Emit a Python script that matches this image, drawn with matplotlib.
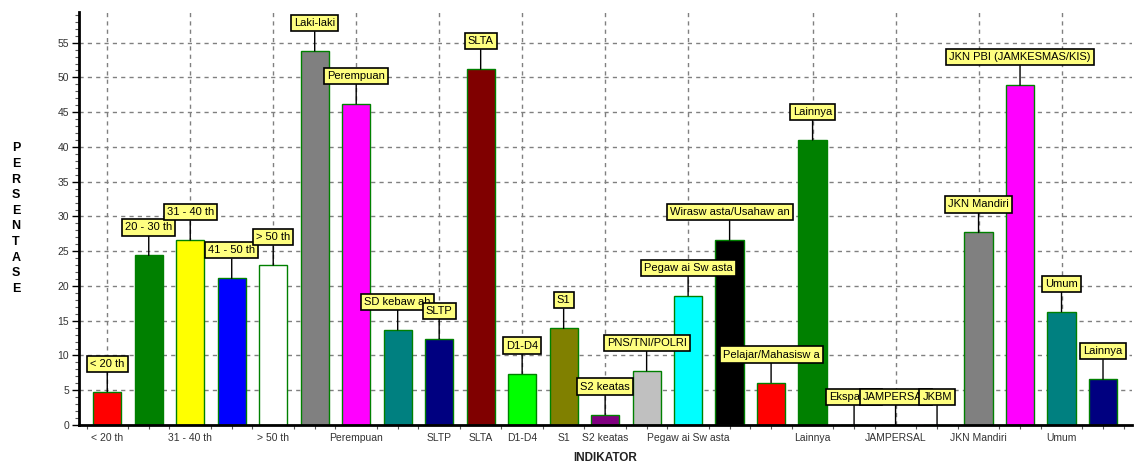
import matplotlib.pyplot as plt
from matplotlib.ticker import MultipleLocator, FixedLocator

plt.rcParams["font.family"] = ["Liberation Sans", "DejaVu Sans"]

# indikator (bar labels) and persentase per bar
indikator = [
    "< 20 th", "20 - 30 th", "31 - 40 th", "41 - 50 th", "> 50 th",
    "Laki-laki", "Perempuan",
    "SD kebaw ah", "SLTP", "SLTA", "D1-D4", "S1", "S2 keatas",
    "PNS/TNI/POLRI", "Pegaw ai Sw asta", "Wirasw asta/Usahaw an",
    "Pelajar/Mahasisw a", "Lainnya",
    "Ekspatriat", "JAMPERSAL", "JKBM", "JKN Mandiri",
    "JKN PBI (JAMKESMAS/KIS)", "Umum", "Lainnya",
]
persentase = [
    4.8, 24.4, 26.6, 21.1, 23.0,
    53.8, 46.2,
    13.7, 12.4, 51.2, 7.4, 13.9, 1.5,
    7.8, 18.6, 26.6, 6.1, 41.0,
    0.0, 0.0, 0.0, 27.7, 48.9, 16.3, 6.6,
]
palette = [
    "#ff0000", "#008000", "#ffff00", "#0000ff", "#ffffff", "#808080",
    "#ff00ff", "#008080", "#000080", "#800000", "#00ff00", "#808000",
    "#800080", "#c0c0c0", "#00ffff", "#000000",
]
# categories that get a tick label / vertical grid line
label_idx = [0, 2, 4, 6, 8, 9, 10, 11, 12, 14, 17, 19, 21, 23]
grid_idx = [0, 2, 4, 6, 8, 10, 12, 14, 17, 19, 21, 23]

x = list(range(len(indikator)))
colors = [palette[i % len(palette)] for i in x]

fig = plt.figure(figsize=(11.39, 4.65), dpi=100)
ax = fig.add_axes([0.0694, 0.086, 0.9245, 0.888])

ax.bar(x, persentase, width=0.68, color=colors, edgecolor="#008000",
       linewidth=1, zorder=2)

ax.set_xlim(-0.68, 24.7)
ax.set_ylim(0, 59.4)

# grid
ax.yaxis.set_major_locator(MultipleLocator(5))
ax.yaxis.set_minor_locator(MultipleLocator(1))
for y in range(5, 60, 5):
    ax.axhline(y, color="#808080", lw=1, ls=(0, (3, 3)), zorder=1)
for i in grid_idx:
    ax.axvline(i, color="#808080", lw=1, ls=(0, (3, 3)), zorder=1)

ax.xaxis.set_major_locator(FixedLocator(label_idx))
ax.set_xticklabels([indikator[i] for i in label_idx])
ax.xaxis.set_minor_locator(MultipleLocator(0.5))
ax.tick_params(axis="x", which="major", length=0, pad=6, labelsize=7.5,
               labelcolor="#333333")
ax.tick_params(axis="x", which="minor", length=3, width=0.8, color="#555555")
ax.tick_params(axis="y", which="major", length=5, width=1, labelsize=7.5,
               labelcolor="#333333", pad=2)
ax.tick_params(axis="y", which="minor", length=3, width=0.8, color="#555555")

for side in ("top", "right"):
    ax.spines[side].set_visible(False)
ax.spines["left"].set_linewidth(2)
ax.spines["bottom"].set_linewidth(2)

# value labels in yellow boxes with a leader line
for i, (name, v) in enumerate(zip(indikator, persentase)):
    ax.annotate(name, xy=(i, v), xytext=(0, 28), textcoords="offset pixels",
                ha="center", va="center", fontsize=8, color="black",
                bbox=dict(boxstyle="square,pad=0.28", fc="#ffff80",
                          ec="black", lw=1.2),
                arrowprops=dict(arrowstyle="-", color="black", lw=1,
                                shrinkA=0, shrinkB=0),
                zorder=3 + i * 0.01)

fig.text(0.014, 0.53, "\n".join("PERSENTASE"), ha="center", va="center",
         fontsize=9, fontweight="bold", linespacing=1.4)
fig.text(0.531, 0.003, "INDIKATOR", ha="center", va="bottom",
         fontsize=8.5, fontweight="bold", color="#222222")

fig.savefig("out.png", dpi=100)
